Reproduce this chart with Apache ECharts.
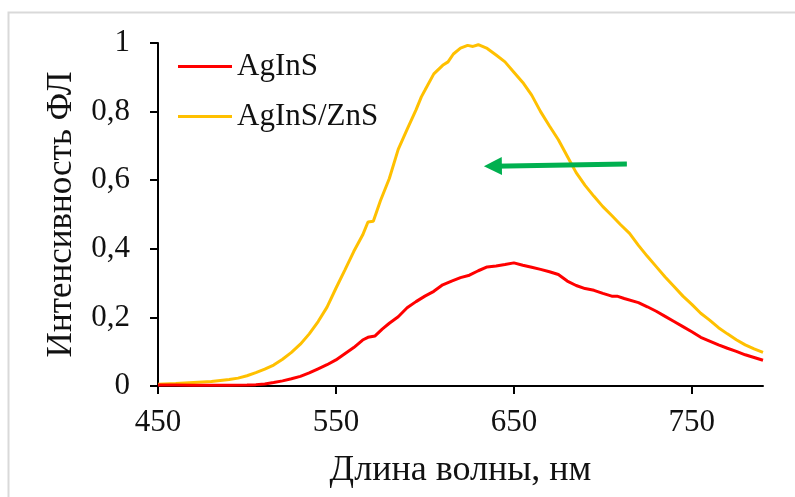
<!DOCTYPE html>
<html>
<head>
<meta charset="utf-8">
<script src="https://cdn.jsdelivr.net/npm/echarts@6/dist/echarts.min.js"></script>
<style>
  html, body { margin: 0; padding: 0; background: #fff; }
  #chart { width: 795px; height: 497px; }
</style>
</head>
<body>
<div id="chart"></div>
<script>
// Photoluminescence spectra, normalised intensity vs wavelength (nm)
const wavelengthsAgInS = [450,460,470,480,490,500,505,510,515,520,525,530,535,540,545,550,555,560,565,568,572,576,580,585,590,595,600,605,610,615,620,625,630,635,640,645,650,655,660,665,670,675,680,685,690,695,700,705,708,712,720,725,730,735,740,745,750,755,760,765,770,775,780,785,790];
const intensityAgInS = [0.003,0.003,0.002,0.002,0.002,0.003,0.004,0.006,0.010,0.015,0.021,0.028,0.038,0.050,0.062,0.076,0.094,0.112,0.134,0.142,0.146,0.166,0.183,0.202,0.228,0.246,0.262,0.276,0.295,0.306,0.316,0.323,0.336,0.347,0.350,0.354,0.359,0.352,0.346,0.340,0.333,0.325,0.306,0.293,0.284,0.279,0.270,0.262,0.262,0.255,0.243,0.231,0.218,0.203,0.188,0.173,0.158,0.142,0.131,0.120,0.110,0.101,0.091,0.083,0.075];

const wavelengthsAgInSZnS = [450,460,470,480,490,495,500,505,510,515,520,525,530,535,540,545,550,555,560,565,568,571,575,580,585,590,595,598,600,605,610,613,616,620,624,627,630,635,640,645,650,655,660,665,670,675,680,685,690,695,700,705,710,715,720,725,730,735,740,745,750,755,760,765,770,775,780,785,790];
const intensityAgInSZnS = [0.005,0.007,0.010,0.013,0.019,0.023,0.030,0.039,0.049,0.061,0.078,0.098,0.122,0.152,0.188,0.230,0.285,0.338,0.392,0.440,0.478,0.480,0.540,0.605,0.690,0.748,0.805,0.843,0.862,0.910,0.935,0.945,0.968,0.985,0.993,0.990,0.995,0.984,0.965,0.945,0.915,0.885,0.848,0.800,0.758,0.718,0.670,0.622,0.585,0.553,0.523,0.497,0.470,0.445,0.410,0.378,0.348,0.318,0.290,0.262,0.238,0.212,0.192,0.170,0.152,0.135,0.120,0.108,0.098];

const seriesNames = ['AgInS', 'AgInS/ZnS'];
const xTicks = [450, 550, 650, 750];
const yTicks = [0, 0.2, 0.4, 0.6, 0.8, 1];
// Blue shift of the emission maximum: arrow from [nm, intensity] to [nm, intensity]
const shiftArrow = [[713.5, 0.647], [638.2, 0.641]];

const zip = (xs, ys) => xs.map((x, i) => [x, ys[i]]);
const serif = '"Liberation Serif", "Times New Roman", serif';
const ink = '#111';

const chart = echarts.init(document.getElementById('chart'), null, { renderer: 'canvas' });
chart.setOption({
  animation: false,
  backgroundColor: '#fff',
  graphic: [{
    type: 'rect',
    shape: { x: 8.5, y: 12.5, width: 900, height: 600 },
    style: { fill: 'none', stroke: '#d9d9d9', lineWidth: 2 },
    silent: true, z: -10
  }],
  grid: { left: 158, top: 43, right: 32, bottom: 111, containLabel: false },
  legend: {
    orient: 'vertical',
    left: 178, top: 51,
    padding: 0,
    icon: 'rect',
    itemWidth: 54, itemHeight: 3,
    itemGap: 19,
    data: seriesNames,
    textStyle: { fontFamily: serif, fontSize: 31, color: ink }
  },
  xAxis: {
    type: 'value', min: 450, max: 790, interval: 100,
    name: 'Длина волны, нм', nameLocation: 'middle', nameGap: 67,
    nameTextStyle: { fontFamily: serif, fontSize: 36, color: ink },
    axisLine: { show: true, onZero: false, lineStyle: { color: '#000', width: 2 } },
    axisTick: { show: true, inside: false, length: 8, lineStyle: { color: '#000', width: 2 }, customValues: xTicks },
    axisLabel: { fontFamily: serif, fontSize: 31, color: ink, margin: 21, customValues: xTicks },
    splitLine: { show: false }
  },
  yAxis: {
    type: 'value', min: 0, max: 1, interval: 0.2,
    name: 'Интенсивность ФЛ', nameLocation: 'middle', nameGap: 79, nameRotate: 90,
    nameTextStyle: { fontFamily: serif, fontSize: 35, color: ink },
    axisLine: { show: true, lineStyle: { color: '#000', width: 2 } },
    axisTick: { show: true, inside: false, length: 8, lineStyle: { color: '#000', width: 2 }, customValues: yTicks },
    axisLabel: {
      fontFamily: serif, fontSize: 31, color: ink, margin: 28, customValues: yTicks,
      formatter: v => String(Math.round(v * 10) / 10).replace('.', ',')
    },
    splitLine: { show: false }
  },
  series: [
    {
      name: seriesNames[0], type: 'line', symbol: 'none', smooth: false,
      data: zip(wavelengthsAgInS, intensityAgInS),
      lineStyle: { color: '#ff0000', width: 3 }, itemStyle: { color: '#ff0000' }, z: 3
    },
    {
      name: seriesNames[1], type: 'line', symbol: 'none', smooth: false,
      data: zip(wavelengthsAgInSZnS, intensityAgInSZnS),
      lineStyle: { color: '#ffc000', width: 3 }, itemStyle: { color: '#ffc000' }, z: 2,
      markLine: {
        silent: true, animation: false,
        symbol: ['none', 'triangle'], symbolSize: [18, 18],
        label: { show: false },
        lineStyle: { color: '#00b050', width: 5, type: 'solid' },
        emphasis: { disabled: true },
        data: [[{ coord: shiftArrow[0] }, { coord: shiftArrow[1] }]]
      }
    }
  ]
});
</script>
</body>
</html>
